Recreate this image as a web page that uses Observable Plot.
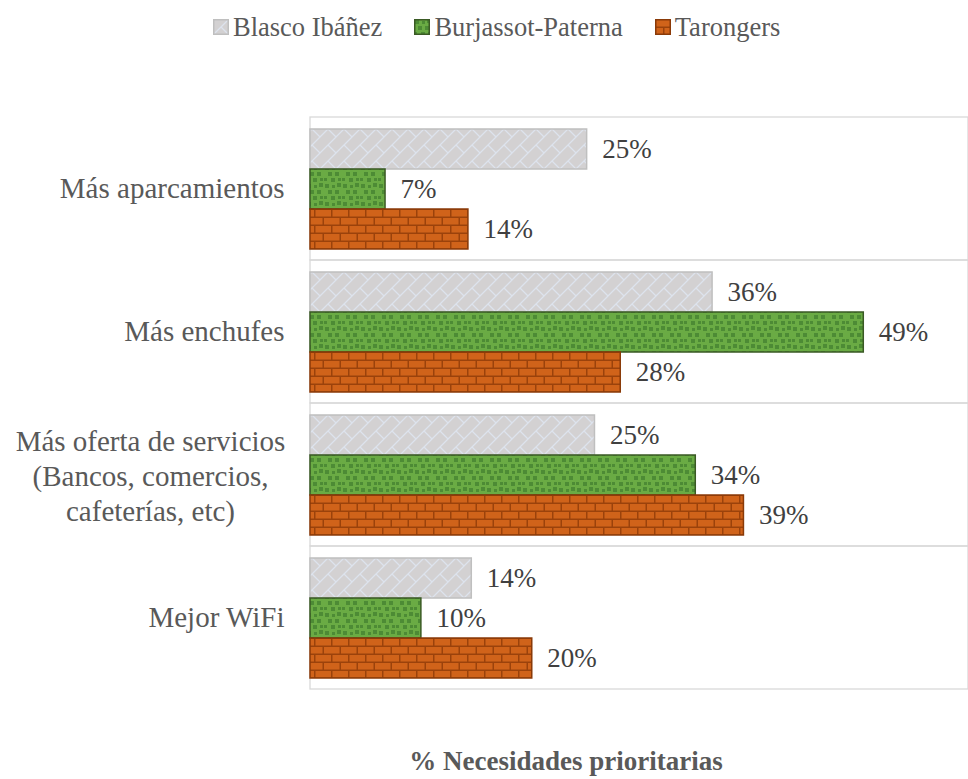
<!DOCTYPE html>
<html>
<head>
<meta charset="utf-8">
<script src="https://cdn.jsdelivr.net/npm/d3@7"></script>
<script src="https://cdn.jsdelivr.net/npm/@observablehq/plot@0.6"></script>
<style>
  html, body { margin: 0; padding: 0; background: #fff; }
  #wrap { position: relative; width: 968px; height: 779px; overflow: hidden; font-family: "Liberation Serif", serif; }
  #legend { position: absolute; top: 10px; left: 213px; display: flex; align-items: center; gap: 32px; font-size: 26.5px; color: #595959; white-space: nowrap; line-height: 34px; }
  #legend .item { display: flex; align-items: center; gap: 4px; }
  #legend svg { display: block; }
  #chart { position: absolute; top: 56px; left: 0; }
  #title { position: absolute; top: 748px; left: 566px; transform: translateX(-50%); font-size: 27px; font-weight: bold; color: #595959; white-space: nowrap; line-height: 1; }
</style>
</head>
<body>
<svg width="0" height="0" style="position:absolute">
  <defs>
    <pattern id="pat-lattice" patternUnits="userSpaceOnUse" width="16" height="16">
      <rect width="16" height="16" fill="#d3d1d2"/>
      <path d="M0,16 L16,0 M-4,4 L4,-4 M12,20 L20,12 M8,8 L16,16" stroke="#dde3ed" stroke-width="1.3" fill="none"/>
    </pattern>
    <pattern id="pat-confetti" patternUnits="userSpaceOnUse" width="18" height="18">
      <rect width="18" height="18" fill="#6aab44"/>
      <g fill="#4d8b35">
        <rect x="1" y="1" width="4" height="4"/>
        <rect x="8" y="2" width="3" height="3"/>
        <rect x="13" y="0" width="4" height="4"/>
        <rect x="4" y="7" width="4" height="4"/>
        <rect x="11" y="7" width="4" height="4"/>
        <rect x="0" y="13" width="3" height="3"/>
        <rect x="7" y="13" width="4" height="4"/>
        <rect x="14" y="13" width="3" height="3"/>
      </g>
    </pattern>
    <pattern id="pat-brick" patternUnits="userSpaceOnUse" width="17" height="16">
      <rect width="17" height="16" fill="#9b420b"/>
      <g fill="#d0631a">
        <rect x="1" y="1" width="15.5" height="6.5"/>
        <rect x="9.5" y="9" width="15.5" height="6.5"/>
        <rect x="-7.5" y="9" width="15.5" height="6.5"/>
      </g>
    </pattern>
  </defs>
</svg>
<div id="wrap">
  <div id="legend"></div>
  <div id="chart"></div>
  <div id="title"></div>
</div>
<script>
// ---- data ----
const categories = ["Más aparcamientos", "Más enchufes", "Más oferta de servicios", "Mejor WiFi"];
const categoryLabels = ["Más aparcamientos", "Más enchufes", "Más oferta de servicios\n(Bancos, comercios,\ncafeterías, etc)", "Mejor WiFi"];
const series = ["Blasco Ibáñez", "Burjassot-Paterna", "Tarongers"];
const blascoIbanez = [24.7, 35.9, 25.4, 14.4];
const burjassotPaterna = [6.7, 49.4, 34.4, 9.9];
const tarongers = [14.1, 27.7, 38.7, 19.8];
const axisTitle = "% Necesidades prioritarias";

const seriesValues = [blascoIbanez, burjassotPaterna, tarongers];
const seriesFill = ["url(#pat-lattice)", "url(#pat-confetti)", "url(#pat-brick)"];
const seriesStroke = ["#bfbfbf", "#3a5a24", "#8a3a08"];

const rows = [];
series.forEach((s, si) => categories.forEach((c, ci) => rows.push({cat: c, series: s, value: seriesValues[si][ci]})));

const xMax = 58.75;
const labelFont = "Liberation Serif, serif";

const marks = [
  Plot.rect(categories, {fy: d => d, x1: 0, x2: xMax, fill: "none", stroke: "#d9d9d9", strokeWidth: 1.3})
];
series.forEach((s, si) => {
  const d = rows.filter(r => r.series === s);
  marks.push(Plot.barX(d, {x: "value", y: "series", fy: "cat", fill: seriesFill[si], stroke: seriesStroke[si], strokeWidth: 1.5}));
});
marks.push(Plot.text(rows, {x: "value", y: "series", fy: "cat", text: d => Math.round(d.value) + "%", textAnchor: "start", dx: 15, dy: 0, fill: "#404040", fontSize: 27, fontFamily: labelFont}));
const single = categories.filter((c, i) => !categoryLabels[i].includes("\n"));
const multi = categories.filter((c, i) => categoryLabels[i].includes("\n"));
const labelOf = c => categoryLabels[categories.indexOf(c)];
marks.push(Plot.text(single, {fy: d => d, text: labelOf, frameAnchor: "left", textAnchor: "end", dx: -26, dy: 0, fill: "#595959", fontSize: 29, fontFamily: labelFont}));
marks.push(Plot.text(multi, {fy: d => d, text: labelOf, frameAnchor: "left", textAnchor: "middle", dx: -160, dy: 0, lineHeight: 1.2, fill: "#595959", fontSize: 29, fontFamily: labelFont}));

const chart = Plot.plot({
  width: 968,
  height: 674,
  marginLeft: 310,
  marginRight: 0,
  marginTop: 60,
  marginBottom: 40,
  style: {fontFamily: labelFont, background: "white", overflow: "visible"},
  x: {domain: [0, xMax], axis: null},
  y: {domain: series, paddingInner: 0, paddingOuter: 0.25, axis: null},
  fy: {domain: categories, padding: 0, axis: null},
  marks
});
document.getElementById("chart").appendChild(chart);

// legend
const legend = d3.select("#legend");
series.forEach((s, si) => {
  const item = legend.append("div").attr("class", "item");
  const sv = item.append("svg").attr("width", 16).attr("height", 16);
  sv.append("rect").attr("x", 0.75).attr("y", 0.75).attr("width", 14.5).attr("height", 14.5)
    .attr("fill", seriesFill[si]).attr("stroke", seriesStroke[si]).attr("stroke-width", 1.5);
  item.append("span").text(s);
});
document.getElementById("title").textContent = axisTitle;
</script>
</body>
</html>
